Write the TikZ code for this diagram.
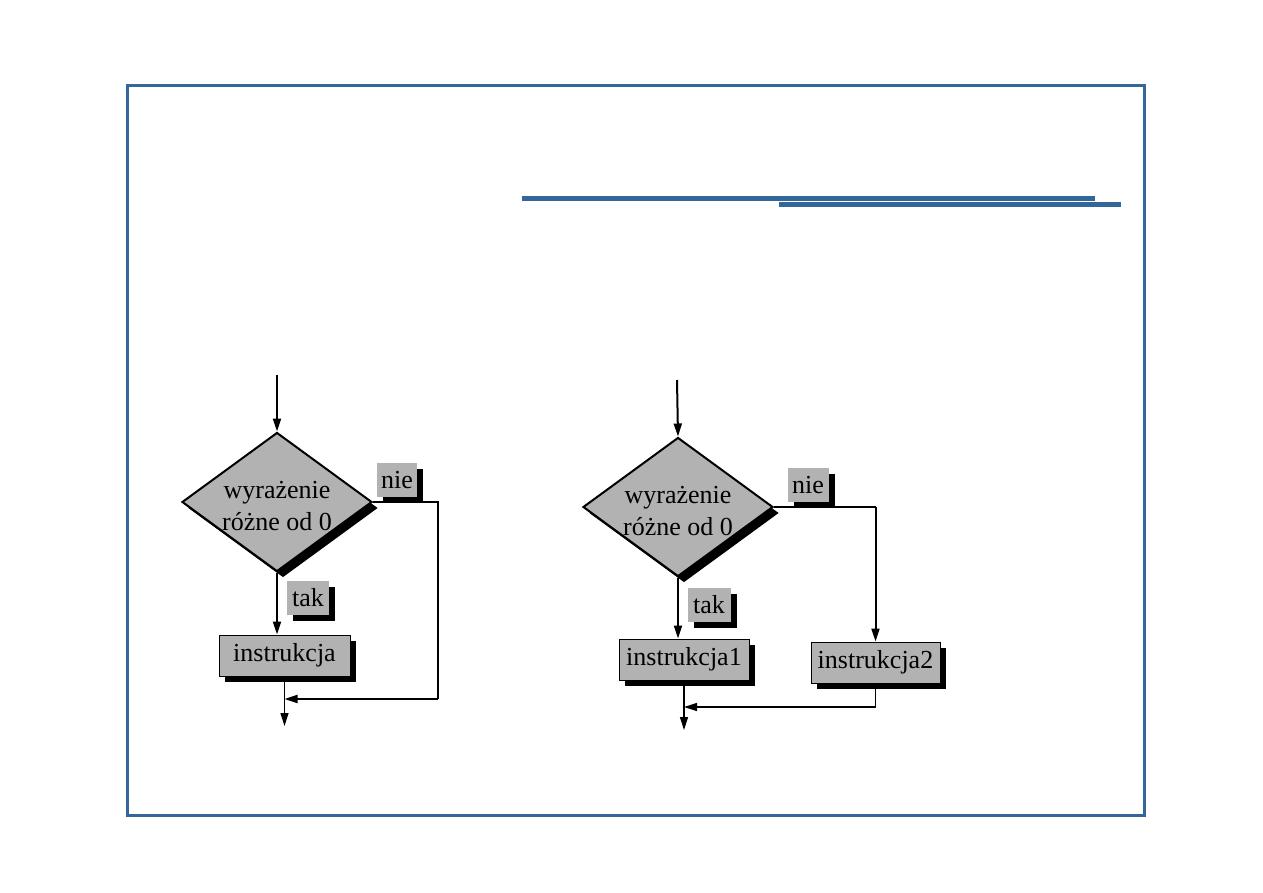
\documentclass[tikz,border=0pt]{standalone}
\usepackage{fontspec}
\setmainfont{Liberation Serif}
\usetikzlibrary{shapes.geometric,arrows.meta,shadows}
\definecolor{frameblue}{RGB}{51,102,153}
\definecolor{boxgray}{RGB}{178,178,178}
\tikzset{
  sh/.style={drop shadow={shadow xshift=6pt,shadow yshift=-6pt,fill=black,opacity=1}},
  decision/.style={diamond,draw=black,line width=2pt,fill=boxgray,inner sep=0pt,
    minimum width=190pt,minimum height=139pt,sh},
  dectext/.style={align=center,font=\fontsize{26}{32}\selectfont,inner sep=0pt},
  instrbox/.style={rectangle,draw=black,line width=1pt,fill=boxgray,inner sep=0pt,
    minimum height=41pt,font=\fontsize{26}{30}\selectfont,sh},
  tag/.style={rectangle,fill=boxgray,inner sep=0pt,minimum height=34pt,
    font=\fontsize{26}{30}\selectfont,sh},
  thick arrow/.style={line width=2pt,-{Triangle[length=13pt,width=8pt]}},
  thin arrow/.style={line width=1.2pt,-{Triangle[length=13pt,width=8pt]}},
  thick line/.style={line width=2pt},
  thin line/.style={line width=1.2pt},
}
\begin{document}
\begin{tikzpicture}[x=1pt,y=-1pt]
\useasboundingbox (0,0) rectangle (1263,893);
\fill[white] (0,0) rectangle (1263,893);
\draw[frameblue,line width=3pt] (127,86) rectangle (1144,815);
\fill[frameblue] (522,196) rectangle (1095,201);
\fill[frameblue] (779,202) rectangle (1121,207);

% ---------- left diagram ----------
\coordinate (s1) at (277,375);
\node[decision] (d1) at (277,502) {};
\node[dectext] (t1) at (277,506) {wyrażenie\\różne od 0};
\node[tag,minimum width=40pt] (nie1) at (397,480) {nie};
\node[tag,minimum width=42pt] (tak1) at (308,598) {tak};
\node[instrbox,minimum width=131pt] (i1) at (284.5,655.5) {instrukcja};
\coordinate (r1) at (438,502);
\coordinate (b1) at (438,699);
\coordinate (j1) at (284.5,699);
\coordinate (e1) at (284.5,726);

\draw[thick arrow] (s1) -- (d1.north);
\draw[thick arrow] (d1.south) -- (d1.south |- i1.north);
\draw[thick line] (d1.east) -- (r1) -- (b1);
\draw[thick arrow] (b1) -- (j1);
\draw[thin arrow] (i1.south) -- (e1);

% ---------- right diagram ----------
\coordinate (s2) at (677,380);
\node[decision] (d2) at (678,507) {};
\node[dectext] (t2) at (678,511) {wyrażenie\\różne od 0};
\node[tag,minimum width=41pt] (nie2) at (808,485) {nie};
\node[tag,minimum width=43pt] (tak2) at (709,605) {tak};
\node[instrbox,minimum width=130pt] (i2a) at (684,659.5) {instrukcja1};
\node[instrbox,minimum width=129pt] (i2b) at (875.5,662.5) {instrukcja2};
\coordinate (r2) at (i2b.north |- d2.east);
\coordinate (b2) at (875.5,707);
\coordinate (j2) at (684,707);
\coordinate (e2) at (684,730);

\draw[thick arrow] (s2) -- (d2.north);
\draw[thick arrow] (d2.south) -- (d2.south |- i2a.north);
\draw[thick line] (d2.east) -- (r2);
\draw[thick arrow] (r2) -- (i2b.north);
\draw[thin line] (i2b.south) -- (b2);
\draw[thin arrow] (b2) -- (j2);
\draw[thin arrow] (i2a.south) -- (e2);
\end{tikzpicture}
\end{document}
